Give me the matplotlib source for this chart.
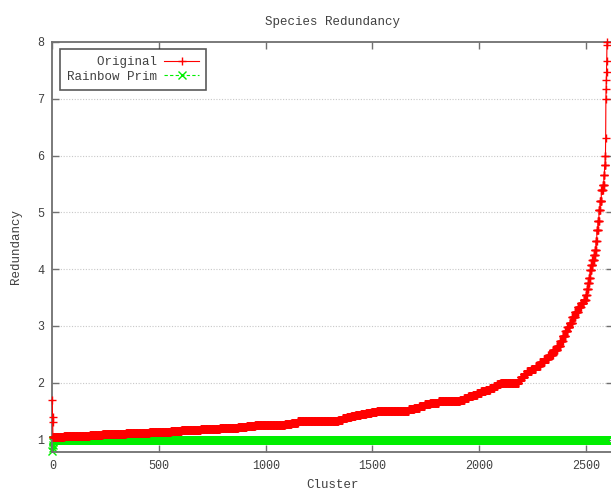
import numpy as np
import matplotlib
matplotlib.use("Agg")
import matplotlib.pyplot as plt

# Redundancy levels of the "Original" series (sorted) and how many clusters sit at each level
orig_values = [1.7, 1.4, 1.3,
               1.05, 1.06, 1.07, 1.08, 1.09, 1.10, 1.11, 1.12, 1.13, 1.14,
               1.15, 1.16, 1.17, 1.18, 1.19, 1.20, 1.21, 1.22, 1.23,
               1.25, 1.27, 1.29, 1.33,
               1.35, 1.37, 1.39, 1.41, 1.43, 1.45, 1.47, 1.48, 1.50,
               1.53, 1.56, 1.59, 1.62, 1.64, 1.67,
               1.70, 1.73, 1.76, 1.79, 1.82, 1.85, 1.88, 1.91, 1.94, 1.97, 2.00,
               2.05, 2.10, 2.15, 2.20, 2.25, 2.30, 2.36, 2.42, 2.49, 2.57,
               2.65, 2.74, 2.83, 2.91, 2.98, 3.06, 3.15, 3.25, 3.33, 3.40,
               3.45, 3.55, 3.65, 3.75, 3.85, 3.98, 4.07, 4.16, 4.25, 4.33,
               4.50, 4.69, 4.85, 5.04, 5.20, 5.39, 5.48, 5.66, 5.83, 6.00,
               6.31, 7.00, 7.17, 7.33, 7.47, 7.67, 7.95, 8.00]
orig_counts = [1, 1, 1,
               52, 60, 60, 60, 55, 55, 55, 55, 50, 50,
               50, 45, 45, 45, 45, 45, 40, 40, 40,
               140, 30, 30, 190,
               20, 20, 20, 20, 25, 25, 25, 25, 150,
               25, 25, 25, 25, 40, 100,
               20, 20, 20, 20, 20, 20, 20, 20, 15, 15, 85,
               10, 15, 15, 20, 20, 20, 20, 20, 20, 20,
               15, 12, 12, 10, 10, 12, 13, 14, 14, 13,
               10, 5, 5, 5, 5, 5, 6, 7, 5, 5,
               4, 5, 5, 5, 6, 7, 5, 3, 3, 2,
               1, 1, 1, 1, 1, 1, 1, 1]

# Redundancy levels of the "Rainbow Prim" series and their counts
prim_values = [0.80, 0.85, 0.90, 0.95, 1.00]
prim_counts = [1, 1, 1, 1, 2597]

x_ticks = [0, 500, 1000, 1500, 2000, 2500]
y_ticks = [1, 2, 3, 4, 5, 6, 7, 8]

orig = np.repeat(orig_values, orig_counts)
prim = np.repeat(prim_values, prim_counts)
x_orig = np.arange(len(orig))
x_prim = np.arange(len(prim))

plt.rcParams['font.family'] = ['Liberation Mono', 'DejaVu Sans Mono']
txt = '#404040'
spine_c = '#707070'

fig = plt.figure(figsize=(6.11, 4.94), dpi=100)
ax = fig.add_axes([52.3 / 611, 42 / 494, 560.2 / 611, 410 / 494])

ax.plot(x_orig, orig, color='#ff0000', lw=0.8, marker='+', ms=6, mew=1.0,
        label='    Original', clip_on=False, zorder=3)
ax.plot(x_prim, prim, color='#00ee00', lw=0.8, ls=(0, (3, 2)), marker='x', ms=6,
        mew=1.0, label='Rainbow Prim', clip_on=False, zorder=2)

ax.set_xlim(0, 2625)
ax.set_ylim(0.78, 8)
ax.set_xticks(x_ticks)
ax.set_yticks(y_ticks)

for yv in y_ticks[1:-1]:
    ax.axhline(yv, color='#c8c8c8', lw=0.8, ls=(0, (1, 1.5)), zorder=1)

ax.tick_params(direction='in', length=5, width=1, color=spine_c, top=True,
               right=True, labelsize=8.5, labelcolor=txt, pad=6)
for s in ax.spines.values():
    s.set_color(spine_c)
    s.set_linewidth(1.3)

ax.set_title('Species Redundancy', fontsize=9, color=txt, pad=12)
ax.set_xlabel('Cluster', fontsize=9, color=txt, labelpad=5)
ax.set_ylabel('Redundancy', fontsize=9, color=txt, labelpad=11)

leg = ax.legend(loc='upper left', markerfirst=False, numpoints=1, fontsize=9,
                frameon=True, fancybox=False, handlelength=2.8,
                borderaxespad=0.6, borderpad=0.55, labelspacing=0.2,
                handletextpad=0.6, bbox_to_anchor=(0.0, 1.0))
leg.get_frame().set_edgecolor('#303030')
leg.get_frame().set_linewidth(1.2)
for t in leg.get_texts():
    t.set_color(txt)

fig.savefig('out.png', dpi=100)
